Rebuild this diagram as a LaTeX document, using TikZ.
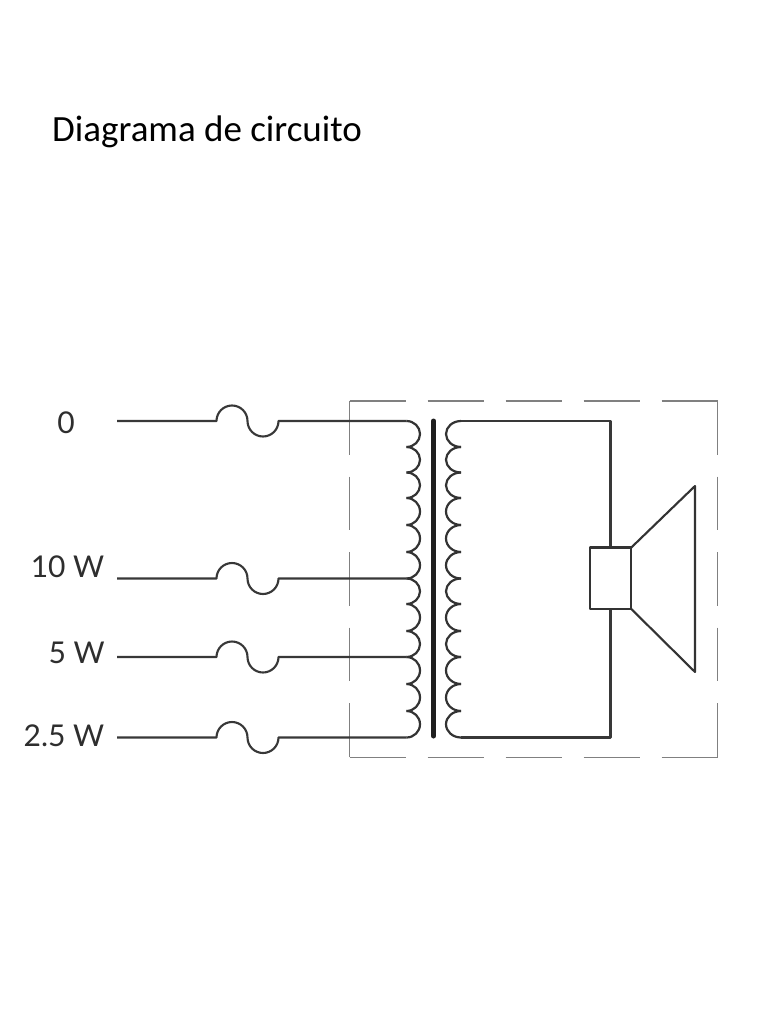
\documentclass[tikz,border=0pt]{standalone}
\usepackage{fontspec}
\setmainfont{Carlito}
\newfontfamily\labelfont{Lato}
\tikzset{
  wire/.style={draw=black!78,line width=2.1pt,line join=round},
  coil/.style={draw=black!80,line width=2.2pt,line join=round},
  core/.style={draw=black!88,line width=5pt,line cap=round},
  enclosure/.style={draw=black!50,line width=1.4pt,dash pattern=on 56pt off 22pt},
  enclosureside/.style={draw=black!50,line width=1.4pt,dash pattern=on 53.5pt off 22pt},
  speakerpart/.style={draw=black!80,line width=2.1pt,line join=round},
  taplabel/.style={font=\labelfont\fontsize{30}{30}\selectfont,text=black!82,anchor=base east,inner sep=0pt},
  titletext/.style={font=\fontsize{37}{40}\selectfont,text=black,anchor=base west,inner sep=0pt}
}
\begin{document}
\begin{tikzpicture}[x=1pt,y=-1pt]
\useasboundingbox[fill=white] (0,0) rectangle (768,1024);
\node[titletext] (title) at (52,142) {Diagrama de circuito};
% tap labels
\node[taplabel] (l0) at (75,433) {0};
\node[taplabel] (l1) at (104.5,577.5) {10 W};
\node[taplabel] (l2) at (105,663) {5 W};
\node[taplabel] (l3) at (104.5,746.5) {2.5 W};
% enclosure
\coordinate (encTL) at (349.5,401);
\coordinate (encTR) at (717.5,401);
\coordinate (encBL) at (349.5,757.5);
\coordinate (encBR) at (717.5,757.5);
\draw[enclosure] (encTL) -- (encTR);
\draw[enclosure] (encBL) -- (encBR);
\draw[enclosureside] (encTL) -- (encBL);
\draw[enclosureside] (encTR) -- (encBR);
% primary and secondary coils
\foreach \i/\y in {0/421,1/447,2/472.5,3/498,4/525,5/552,6/578.5,7/604,8/631,9/657,10/684,11/711,12/737.5}{
  \coordinate (p\i) at (406.5,\y);
  \coordinate (s\i) at (461,\y);
}
\foreach \a/\r in {0/13,1/12.75,2/12.75,3/13.5,4/13.5,5/13.25,6/12.75,7/13.5,8/13,9/13.5,10/13.5,11/13.25}{
  \draw[coil] (p\a) arc[start angle=90,end angle=-90,x radius=13.5pt,y radius=\r pt];
  \draw[coil] (s\a) arc[start angle=90,end angle=270,x radius=15pt,y radius=\r pt];
}
% core
\coordinate (coreT) at (433.5,421);
\coordinate (coreB) at (433.5,736);
\draw[core] (coreT) -- (coreB);
% input wires with fuses
\foreach \n/\y/\t in {0/421/0,1/578.5/6,2/657/9,3/737.5/12}{
  \coordinate (in\n) at (117,\y);
  \coordinate (fa\n) at (216.5,\y);
  \draw[wire] (in\n) -- (fa\n)
    arc[start angle=180,end angle=0,radius=15.5pt]
    arc[start angle=180,end angle=360,radius=15.5pt]
    -- (p\t);
}
% speaker
\coordinate (vcTL) at (590,547.5);
\coordinate (vcTR) at (631.3,547.5);
\coordinate (vcBR) at (631.3,609);
\coordinate (vcBL) at (590,609);
\coordinate (vcT) at (610.5,547.5);
\coordinate (vcB) at (610.5,609);
\coordinate (coneT) at (695,486);
\coordinate (coneB) at (695,672);
\coordinate (secT) at (610.5,421);
\coordinate (secB) at (610.5,737.5);
\draw[wire] (s0) -- (secT) -- (vcT);
\draw[wire] (s12) -- (secB) -- (vcB);
\draw[speakerpart] (vcTL) -- (vcTR) -- (vcBR) -- (vcBL) -- cycle;
\draw[speakerpart] (vcTR) -- (coneT) -- (coneB) -- (vcBR);
\end{tikzpicture}
\end{document}
